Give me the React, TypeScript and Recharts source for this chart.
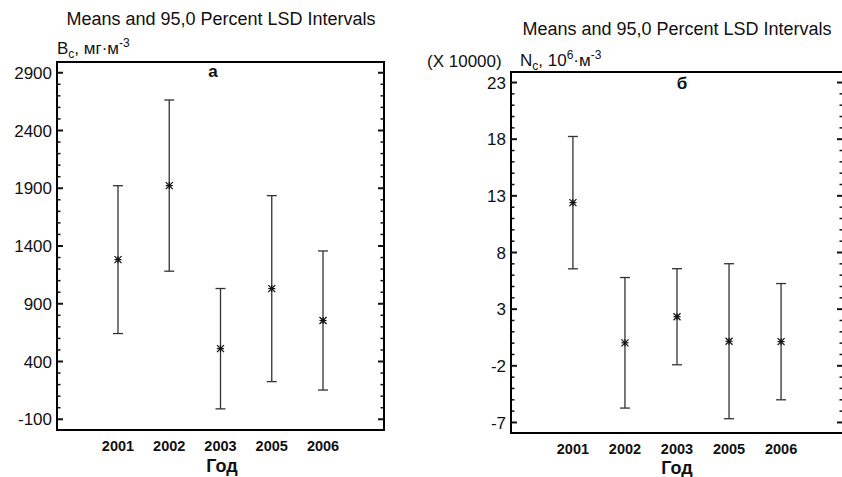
import React from 'react'
import { ComposedChart, Scatter, ErrorBar, XAxis, YAxis, ReferenceArea } from 'recharts'

// categories
const years = ['2001', '2002', '2003', '2005', '2006']
const xIndex = [0, 1, 2, 3, 4]

// panel а: B_c, mg/m3 — means and LSD half-widths
const meanB = [1282, 1923, 511, 1031, 755]
const lsdB = [640, 741, 521, 805, 602]

// panel б: N_c (x 10000) — means and LSD half-widths
const meanN = [12.4, 0.03, 2.33, 0.17, 0.13]
const lsdN = [5.84, 5.76, 4.24, 6.84, 5.13]

// tick labels
const majorB = [-100, 400, 900, 1400, 1900, 2400, 2900]
const majorN = [-7, -2, 3, 8, 13, 18, 23]

const FONT = '"Liberation Sans", Arial, sans-serif'
const INK = '#111'
const X_DOMAIN: [number, number] = [-1.19, 5.19]

const withMinors = (majors: number[], step: number, max: number) => {
  const all = [...majors]
  majors.forEach(m => [1, 2, 3, 4].forEach(k => { if (m + k * step <= max) all.push(m + k * step) }))
  return all.sort((a, b) => a - b)
}

const Asterisk = (props: any) => {
  const { cx, cy } = props
  const r = 3.5
  return (
    <g stroke={INK} strokeWidth={1.2}>
      <line x1={cx - r} y1={cy - r} x2={cx + r} y2={cy + r} />
      <line x1={cx - r} y1={cy + r} x2={cx + r} y2={cy - r} />
      <line x1={cx} y1={cy - r} x2={cx} y2={cy + r} />
      <line x1={cx - r} y1={cy} x2={cx + r} y2={cy} />
    </g>
  )
}

const leftTick = (majors: number[]) => (p: any) => {
  const major = majors.includes(p.payload.value)
  return (
    <g>
      <line x1={p.x} x2={p.x + (major ? 6 : 3.5)} y1={p.y} y2={p.y} stroke={INK} strokeWidth={major ? 2 : 1.5} />
      {major && (
        <text x={p.x - 5} y={p.y} dy="0.36em" textAnchor="end" fontSize={17} fontFamily={FONT} fill={INK}>
          {p.payload.value}
        </text>
      )}
    </g>
  )
}

const rightTick = (majors: number[]) => (p: any) => {
  const major = majors.includes(p.payload.value)
  return (
    <line x1={p.x - (major ? 6 : 3.5)} x2={p.x} y1={p.y} y2={p.y} stroke={INK} strokeWidth={major ? 2 : 1.5} />
  )
}

const yearTick = (p: any) => (
  <text x={p.x} y={p.y + 21} textAnchor="middle" fontSize={14.5} fontWeight="bold" fontFamily={FONT} fill={INK}>
    {years[p.payload.value]}
  </text>
)

interface PanelProps {
  means: number[]
  lsd: number[]
  majors: number[]
  step: number
  domain: [number, number]
  width: number
  top: number
  leftW: number
  rightW: number
  bottomH: number
}

function Panel({ means, lsd, majors, step, domain, width, top, leftW, rightW, bottomH }: PanelProps) {
  const data = xIndex.map(i => ({ x: i, mean: means[i], lsd: lsd[i] }))
  const ticks = withMinors(majors, step, domain[1])
  return (
    <ComposedChart width={width} height={477} data={data} margin={{ top, right: 0, bottom: 0, left: 0 }}>
      <XAxis
        dataKey="x" type="number" domain={X_DOMAIN} ticks={xIndex} interval={0}
        height={bottomH} tickSize={0} tickMargin={0} tickLine={false} axisLine={false} tick={yearTick}
      />
      <YAxis
        dataKey="mean" type="number" domain={domain} allowDataOverflow ticks={ticks} interval={0}
        width={leftW} tickSize={0} tickMargin={0} tickLine={false} axisLine={false} tick={leftTick(majors)}
      />
      <YAxis
        yAxisId="r" orientation="right" type="number" domain={domain} allowDataOverflow ticks={ticks} interval={0}
        width={rightW} tickSize={0} tickMargin={0} tickLine={false} axisLine={false} tick={rightTick(majors)}
      />
      <ReferenceArea
        x1={X_DOMAIN[0]} x2={X_DOMAIN[1]} y1={domain[0]} y2={domain[1]}
        fill="none" fillOpacity={0} stroke="#000" strokeWidth={2} ifOverflow="visible"
      />
      <Scatter dataKey="mean" shape={Asterisk} isAnimationActive={false}>
        <ErrorBar dataKey="lsd" direction="y" width={5} stroke="#333" strokeWidth={1.3} isAnimationActive={false} />
      </Scatter>
    </ComposedChart>
  )
}

export default function App() {
  return (
    <div style={{ position: 'absolute', left: 0, top: 0, width: 842, height: 477, overflow: 'hidden', background: '#fff' }}>
      <div style={{ position: 'absolute', left: 0, top: 0 }}>
        <Panel means={meanB} lsd={lsdB} majors={majorB} step={100} domain={[-193, 2993]}
          width={420} top={62} leftW={57} rightW={36} bottomH={47} />
      </div>
      <div style={{ position: 'absolute', left: 420, top: 0 }}>
        <Panel means={meanN} lsd={lsdN} majors={majorN} step={1} domain={[-7.93, 23.93]}
          width={440} top={72} leftW={91} rightW={17} bottomH={44} />
      </div>
      <svg width={842} height={477} style={{ position: 'absolute', left: 0, top: 0, pointerEvents: 'none' }}
        fontFamily={FONT} fill={INK}>
        <text x={221} y={25} fontSize={18} textAnchor="middle">Means and 95,0 Percent LSD Intervals</text>
        <text x={677} y={35} fontSize={18} textAnchor="middle">Means and 95,0 Percent LSD Intervals</text>

        <text x={57} y={54} fontSize={17}>
          B<tspan fontSize={12} dy={4}>c</tspan><tspan dy={-4}>, мг·м</tspan><tspan fontSize={12} dy={-7}>-3</tspan>
        </text>
        <text x={427} y={67} fontSize={17}>(X 10000)</text>
        <text x={520} y={66} fontSize={17}>
          N<tspan fontSize={12} dy={4}>c</tspan><tspan dy={-4}>, 10</tspan><tspan fontSize={12} dy={-7}>6</tspan>
          <tspan dy={7}>·м</tspan><tspan fontSize={12} dy={-7}>-3</tspan>
        </text>

        <text x={213} y={77} fontSize={17} fontWeight="bold" textAnchor="middle">а</text>
        <text x={682} y={89} fontSize={17} fontWeight="bold" textAnchor="middle">б</text>

        <text x={222} y={472} fontSize={18} fontWeight="bold" textAnchor="middle">Год</text>
        <text x={677} y={474} fontSize={18} fontWeight="bold" textAnchor="middle">Год</text>
      </svg>
    </div>
  )
}
